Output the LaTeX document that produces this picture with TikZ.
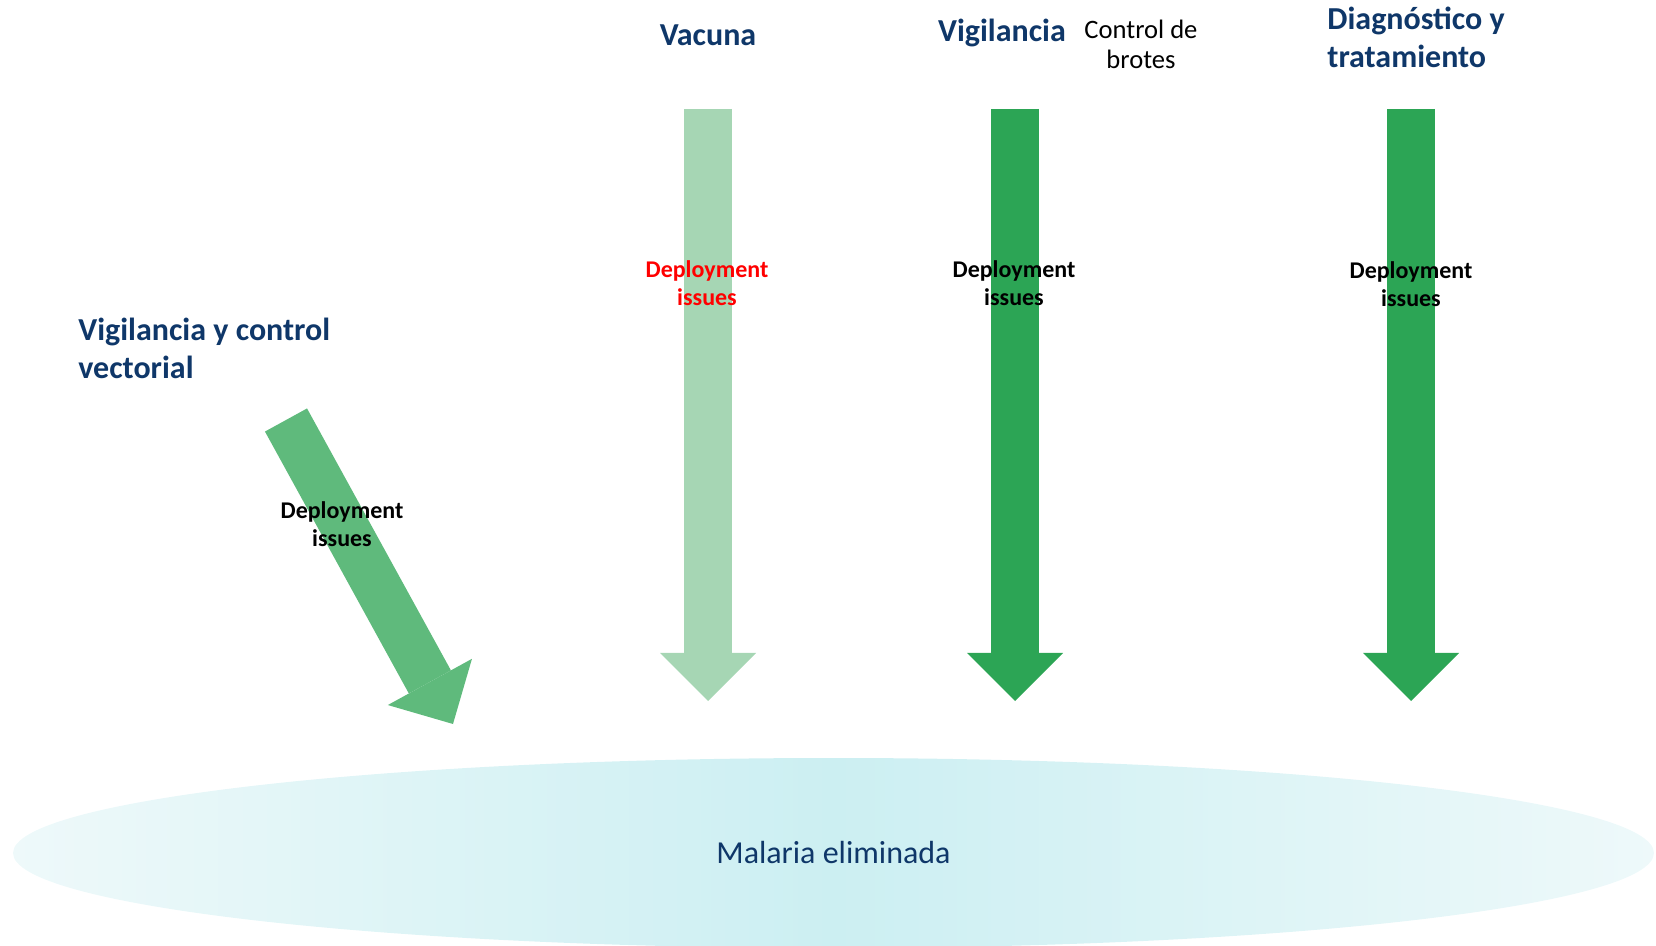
\documentclass[tikz,border=0pt]{standalone}
\usepackage{fontspec}
\setmainfont{Carlito}
\usetikzlibrary{arrows.meta,shapes.geometric}

\definecolor{navy}{RGB}{15,55,105}
\definecolor{palegreen}{RGB}{166,214,180}
\definecolor{darkgreen}{RGB}{44,165,85}
\definecolor{midgreen}{RGB}{95,186,124}
\definecolor{lakemid}{RGB}{204,239,242}
\definecolor{lakeside}{RGB}{238,249,250}

\begin{document}
\begin{tikzpicture}[x=0.5pt,y=-0.5pt,
    block/.style={line width=24pt,-{Triangle[length=24pt,width=48pt,line width=0pt]}},
    title/.style={font=\fontsize{16}{19.25}\selectfont\bfseries,text=navy,inner sep=0pt},
    issue/.style={font=\fontsize{12}{14.25}\selectfont\bfseries,align=center,inner sep=0pt,anchor=base}]
  \useasboundingbox (0,0) rectangle (1656,946);

  \node[ellipse,minimum width=820.5pt,minimum height=95pt,inner sep=0pt,
        left color=lakeside,right color=lakeside,middle color=lakemid,
        font=\fontsize{16}{18}\selectfont,text=navy] (malaria) at (833.5,853) {Malaria eliminada};

  \coordinate (vacTop) at (708,109);   \coordinate (vacTip) at (708,701);
  \coordinate (vigTop) at (1015,109);  \coordinate (vigTip) at (1015,701);
  \coordinate (diaTop) at (1411,109);  \coordinate (diaTip) at (1411,701);
  \coordinate (vecTop) at (286,420);   \coordinate (vecTip) at (453,724);

  \draw[block,midgreen]  (vecTop) -- (vecTip);
  \draw[block,palegreen] (vacTop) -- (vacTip);
  \draw[block,darkgreen] (vigTop) -- (vigTip);
  \draw[block,darkgreen] (diaTop) -- (diaTip);

  % multi-line nodes sit on the baseline of their last line
  \node[title,anchor=base] (vacuna) at (708,46) {Vacuna};
  \node[title,anchor=base] (vigil) at (1002,42) {Vigilancia};
  \node[font=\fontsize{13.3}{15.25}\selectfont,align=center,inner sep=0pt,anchor=base]
    (brotes) at (1141,69) {Control de\\brotes};
  \node[title,align=left,anchor=base west] (diag) at (1327,68) {Diagnóstico y\\tratamiento};
  \node[title,align=left,anchor=base west] (vector) at (78,379) {Vigilancia y control\\vectorial};

  \node[issue,text=red] (vacIss) at (707,306) {Deployment\\issues};
  \node[issue] (vigIss) at (1014,306) {Deployment\\issues};
  \node[issue] (diaIss) at (1411,307) {Deployment\\issues};
  \node[issue] (vecIss) at (342,547) {Deployment\\issues};
\end{tikzpicture}
\end{document}
